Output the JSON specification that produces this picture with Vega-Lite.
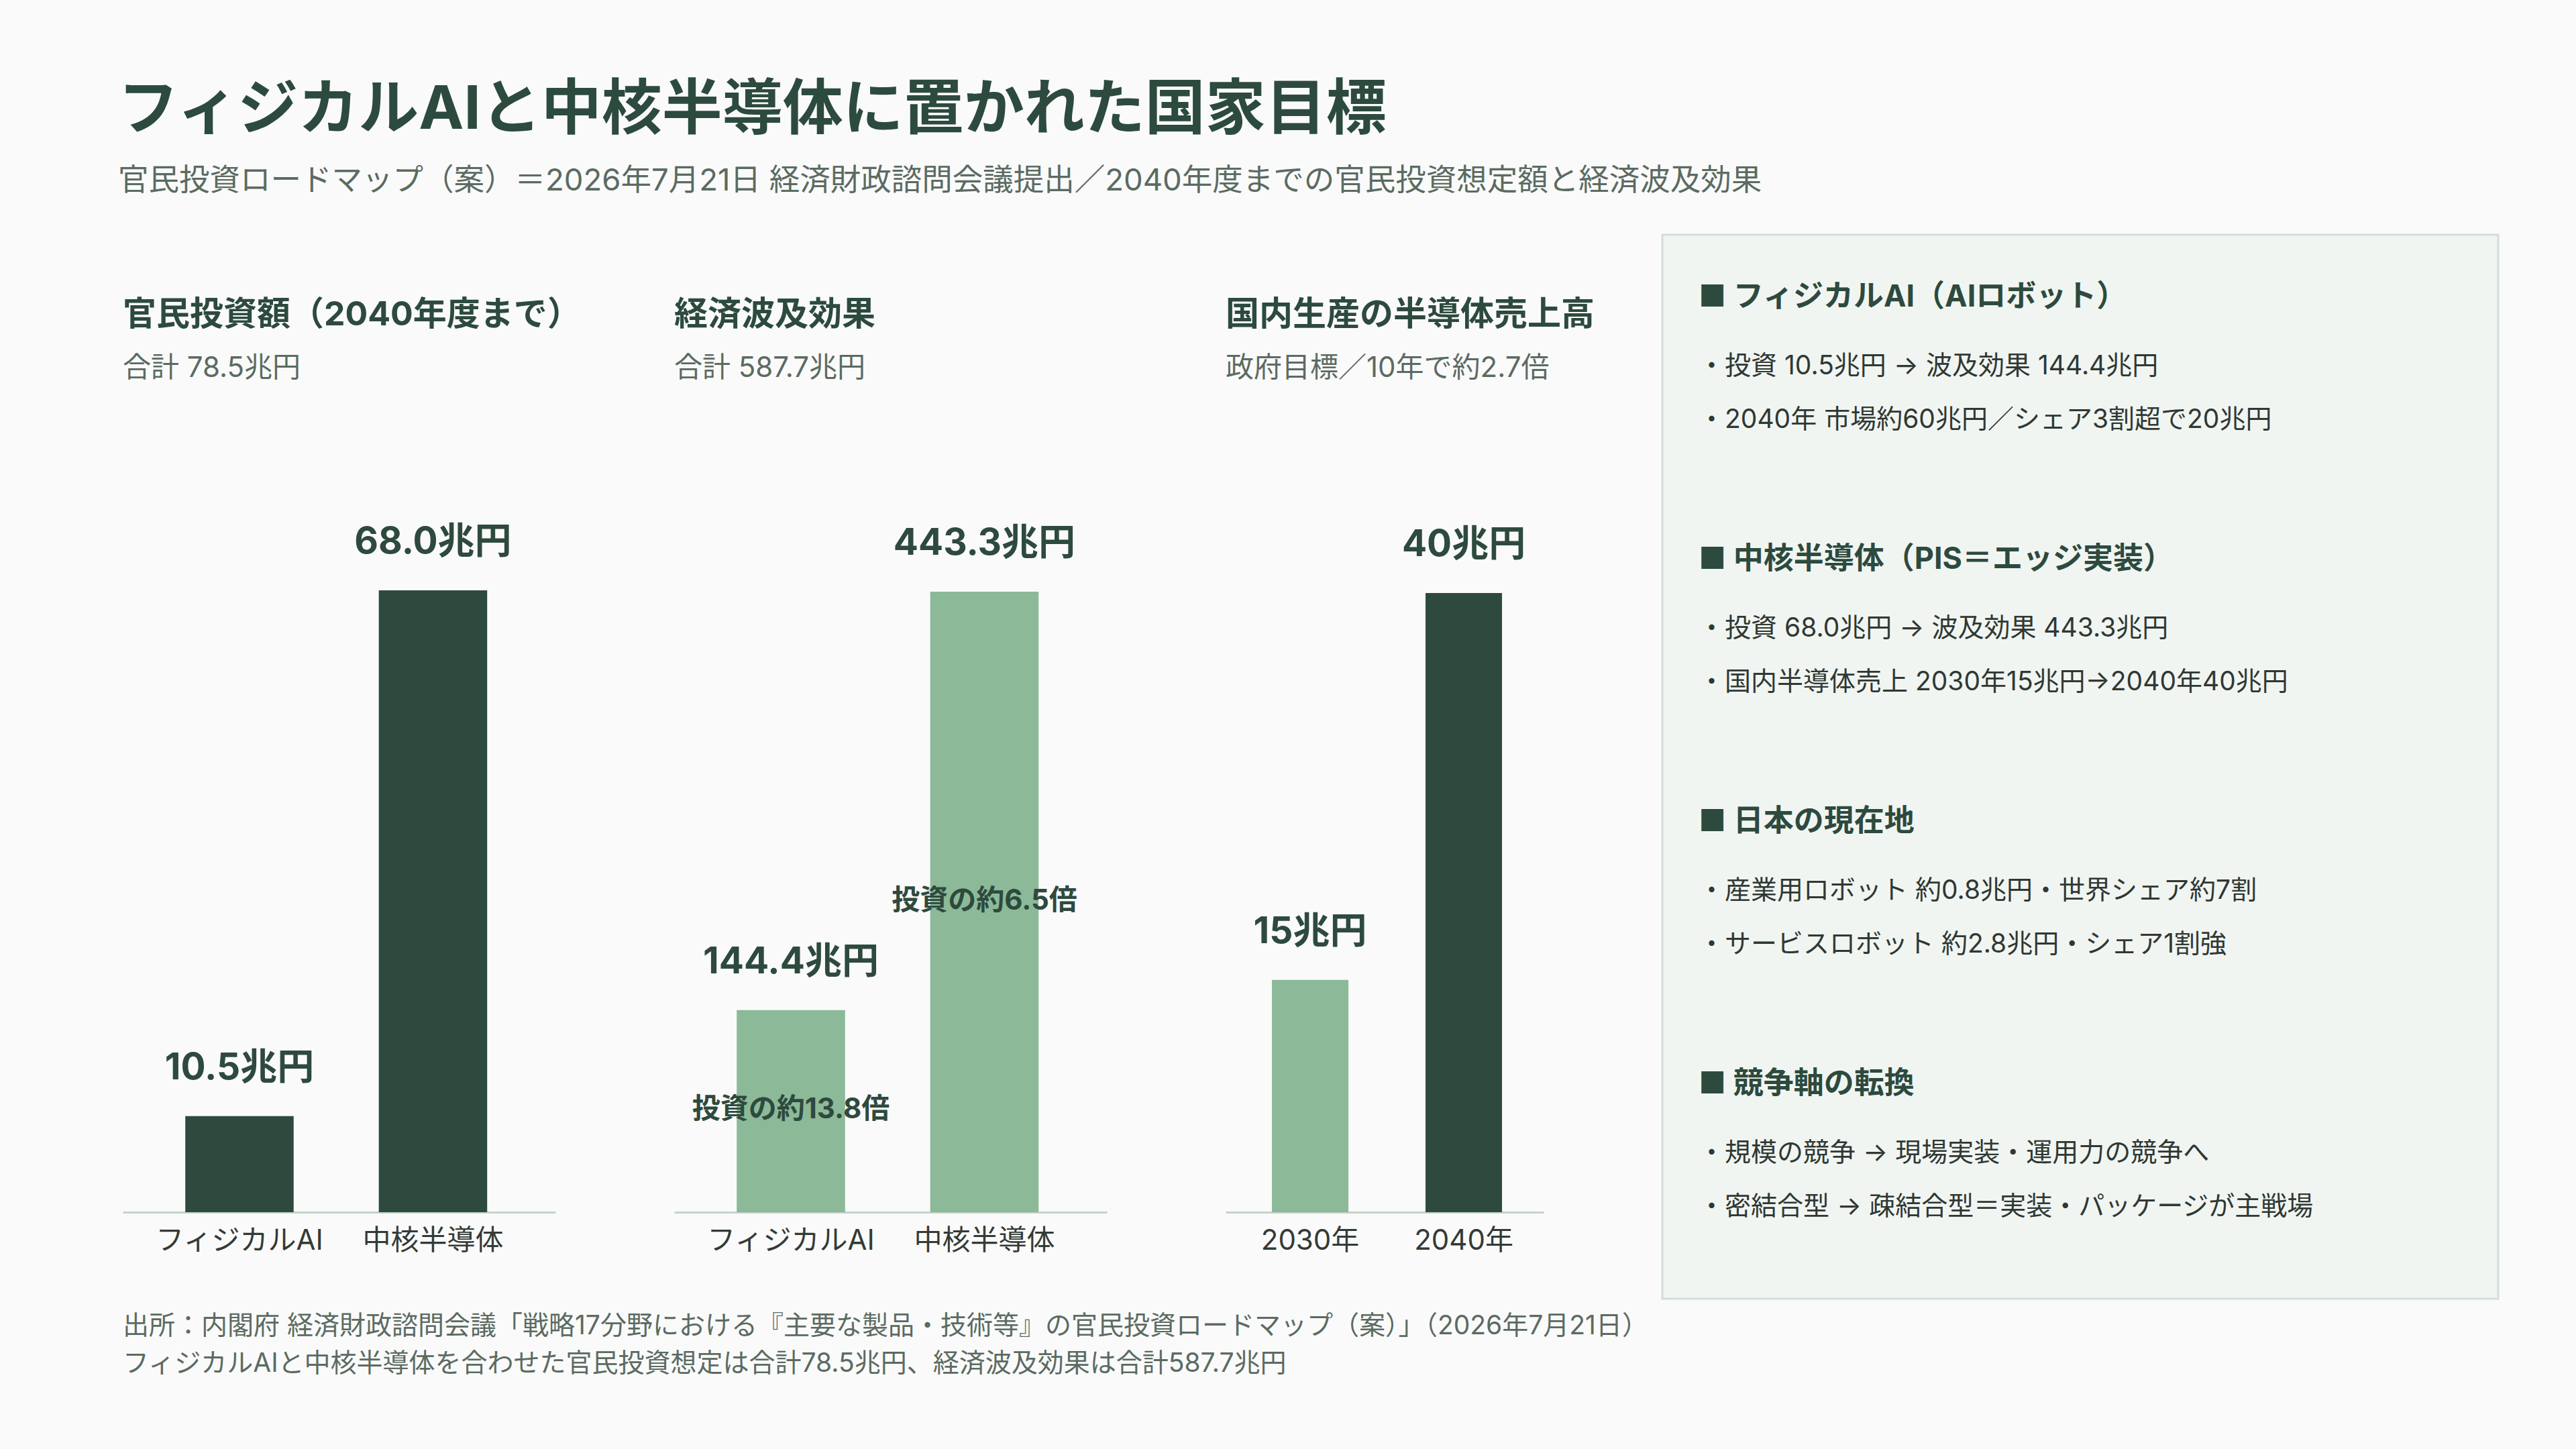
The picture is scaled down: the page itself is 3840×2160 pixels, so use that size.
{
  "$schema": "https://vega.github.io/schema/vega-lite/v6.json",
  "background": "#fafafa",
  "autosize": {"type": "pad"},
  "padding": {"left": 176, "top": 120, "right": 114, "bottom": 100},
  "config": {
    "font": "Inter, Noto Sans CJK JP",
    "view": {"stroke": null},
    "title": {
      "anchor": "start",
      "frame": "group",
      "orient": "top",
      "fontSize": 50,
      "fontWeight": "bold",
      "color": "#2d4a3e",
      "subtitleFontSize": 42,
      "subtitleFontWeight": "normal",
      "subtitleColor": "#5b6b62",
      "subtitlePadding": 34,
      "offset": -220
    },
    "axis": {
      "grid": false,
      "ticks": false,
      "domainColor": "#c5d3c8",
      "domainWidth": 3,
      "labelFontSize": 42,
      "labelColor": "#333b36",
      "labelPadding": 22,
      "labelAngle": 0,
      "labelLimit": 0
    }
  },
  "title": {
    "text": "フィジカルAIと中核半導体に置かれた国家目標",
    "subtitle": "官民投資ロードマップ（案）＝2026年7月21日 経済財政諮問会議提出／2040年度までの官民投資想定額と経済波及効果",
    "anchor": "start",
    "frame": "group",
    "fontSize": 90,
    "fontWeight": "bold",
    "color": "#2d4a3e",
    "subtitleFontSize": 45.5,
    "subtitleColor": "#5b6b62",
    "subtitlePadding": 37,
    "offset": 54,
    "dx": -7
  },
  "datasets": {
    "investment": [
      {"category": "フィジカルAI", "value": 10.5, "label": "10.5兆円"},
      {"category": "中核半導体", "value": 68.0, "label": "68.0兆円"}
    ],
    "ripple": [
      {"category": "フィジカルAI", "value": 144.4, "label": "144.4兆円", "note": "投資の約13.8倍"},
      {"category": "中核半導体", "value": 443.3, "label": "443.3兆円", "note": "投資の約6.5倍"}
    ],
    "sales": [
      {"year": "2030年", "value": 15, "label": "15兆円"},
      {"year": "2040年", "value": 40, "label": "40兆円"}
    ],
    "notes": [
      {"section": "physical-ai", "item": 0, "text": "■ フィジカルAI（AIロボット）"},
      {"section": "physical-ai", "item": 1, "text": "・投資 10.5兆円 → 波及効果 144.4兆円"},
      {"section": "physical-ai", "item": 2, "text": "・2040年 市場約60兆円／シェア3割超で20兆円"},
      {"section": "core-semi", "item": 0, "text": "■ 中核半導体（PIS＝エッジ実装）"},
      {"section": "core-semi", "item": 1, "text": "・投資 68.0兆円 → 波及効果 443.3兆円"},
      {"section": "core-semi", "item": 2, "text": "・国内半導体売上 2030年15兆円→2040年40兆円"},
      {"section": "japan-now", "item": 0, "text": "■ 日本の現在地"},
      {"section": "japan-now", "item": 1, "text": "・産業用ロボット 約0.8兆円・世界シェア約7割"},
      {"section": "japan-now", "item": 2, "text": "・サービスロボット 約2.8兆円・シェア1割強"},
      {"section": "competition", "item": 0, "text": "■ 競争軸の転換"},
      {"section": "competition", "item": 1, "text": "・規模の競争 → 現場実装・運用力の競争へ"},
      {"section": "competition", "item": 2, "text": "・密結合型 → 疎結合型＝実装・パッケージが主戦場"}
    ],
    "footnotes": [
      {"line": "1", "text": "出所：内閣府 経済財政諮問会議「戦略17分野における『主要な製品・技術等』の官民投資ロードマップ（案）」（2026年7月21日）"},
      {"line": "2", "text": "フィジカルAIと中核半導体を合わせた官民投資想定は合計78.5兆円、経済波及効果は合計587.7兆円"}
    ]
  },
  "vconcat": [
    {
      "hconcat": [
        {
          "width": 645,
          "height": 1457,
          "title": {"text": "官民投資額（2040年度まで）", "subtitle": "合計 78.5兆円"},
          "data": {"name": "investment"},
          "encoding": {
            "x": {
              "field": "category", "type": "nominal", "sort": null,
              "scale": {"paddingInner": 0.44, "paddingOuter": 0.338, "align": 0.478},
              "axis": {"title": null}
            },
            "y": {
              "field": "value", "type": "quantitative",
              "scale": {"domain": [0, 106.88], "nice": false, "zero": true},
              "axis": null
            }
          },
          "layer": [
            {"mark": {"type": "bar", "color": "#2e4a3e"}},
            {
              "mark": {"type": "text", "baseline": "alphabetic", "dy": -55, "fontSize": 55, "fontWeight": "bold", "color": "#2e4a3e"},
              "encoding": {"text": {"field": "label"}}
            }
          ]
        },
        {
          "width": 645,
          "height": 1457,
          "title": {"text": "経済波及効果", "subtitle": "合計 587.7兆円"},
          "data": {"name": "ripple"},
          "encoding": {
            "x": {
              "field": "category", "type": "nominal", "sort": null,
              "scale": {"paddingInner": 0.44, "paddingOuter": 0.338, "align": 0.478},
              "axis": {"title": null}
            }
          },
          "layer": [
            {
              "mark": {"type": "bar", "color": "#8cb998"},
              "encoding": {
                "y": {"field": "value", "type": "quantitative", "scale": {"domain": [0, 698.3], "nice": false, "zero": true}, "axis": null}
              }
            },
            {
              "mark": {"type": "text", "baseline": "alphabetic", "dy": -55, "fontSize": 55, "fontWeight": "bold", "color": "#2e4a3e"},
              "encoding": {
                "y": {"field": "value", "type": "quantitative", "scale": {"domain": [0, 698.3], "nice": false, "zero": true}, "axis": null},
                "text": {"field": "label"}
              }
            },
            {
              "mark": {"type": "text", "baseline": "middle", "dy": -2, "fontSize": 42, "fontWeight": "bold", "color": "#2e4a3e"},
              "encoding": {
                "y": {"field": "value", "type": "quantitative", "scale": {"domain": [0, 1396.6], "nice": false, "zero": true}, "axis": null},
                "text": {"field": "note"}
              }
            }
          ],
          "resolve": {"scale": {"y": "independent"}}
        },
        {
          "width": 474,
          "height": 1457,
          "title": {"text": "国内生産の半導体売上高", "subtitle": "政府目標／10年で約2.7倍"},
          "data": {"name": "sales"},
          "encoding": {
            "x": {
              "field": "year", "type": "nominal", "sort": null,
              "scale": {"paddingInner": 0.502, "paddingOuter": 0.286, "align": 0.527},
              "axis": {"title": null}
            },
            "y": {
              "field": "value", "type": "quantitative",
              "scale": {"domain": [0, 63.14], "nice": false, "zero": true},
              "axis": null
            }
          },
          "layer": [
            {
              "mark": {"type": "bar"},
              "encoding": {
                "color": {
                  "field": "year", "type": "nominal",
                  "scale": {"domain": ["2030年", "2040年"], "range": ["#8cb998", "#2e4a3e"]},
                  "legend": null
                }
              }
            },
            {
              "mark": {"type": "text", "baseline": "alphabetic", "dy": -55, "fontSize": 55, "fontWeight": "bold", "color": "#2e4a3e"},
              "encoding": {"text": {"field": "label"}}
            }
          ]
        },
        {
          "width": 1246,
          "height": 1586,
          "view": {"fill": "#f1f5f2", "stroke": "#d3ddd6", "strokeWidth": 3},
          "data": {"name": "notes"},
          "encoding": {
            "x": {"datum": 0, "type": "quantitative", "scale": {"domain": [0, 1]}, "axis": null},
            "y": {
              "field": "section", "type": "nominal",
              "scale": {"type": "band", "domain": ["physical-ai", "core-semi", "japan-now", "competition"], "paddingInner": 0, "paddingOuter": 0.028},
              "axis": null
            },
            "text": {"field": "text"}
          },
          "layer": [
            {
              "transform": [{"filter": "datum.item == 0"}],
              "mark": {"type": "text", "align": "left", "baseline": "middle", "dx": 54, "dy": -113.5, "fontSize": 45, "fontWeight": "bold", "color": "#2d4a3e"}
            },
            {
              "transform": [{"filter": "datum.item == 1"}],
              "mark": {"type": "text", "align": "left", "baseline": "middle", "dx": 54, "dy": -10.5, "fontSize": 39, "color": "#2f3833"}
            },
            {
              "transform": [{"filter": "datum.item == 2"}],
              "mark": {"type": "text", "align": "left", "baseline": "middle", "dx": 54, "dy": 69.5, "fontSize": 39, "color": "#2f3833"}
            }
          ]
        }
      ],
      "spacing": 177,
      "bounds": "flush"
    },
    {
      "width": 600,
      "height": 112,
      "data": {"name": "footnotes"},
      "mark": {"type": "text", "align": "left", "baseline": "middle", "fontSize": 39, "color": "#5b6b62"},
      "encoding": {
        "x": {"datum": 0, "type": "quantitative", "scale": {"domain": [0, 1]}, "axis": null},
        "y": {"field": "line", "type": "ordinal", "axis": null},
        "text": {"field": "text"}
      }
    }
  ],
  "spacing": 11
}
